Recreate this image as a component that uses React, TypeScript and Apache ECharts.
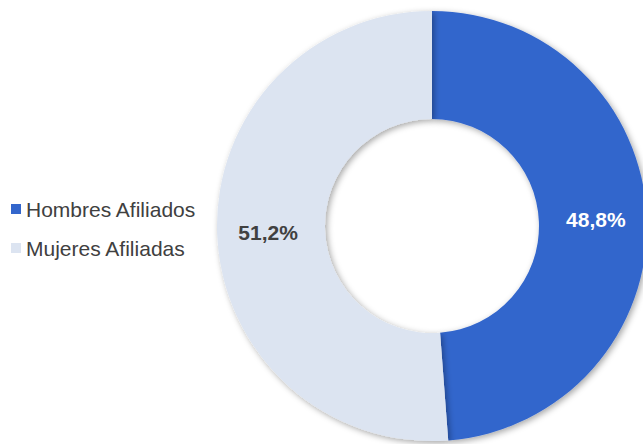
import React, { useEffect, useRef } from "react";
import * as echarts from "echarts";

const categories = ["Hombres Afiliados", "Mujeres Afiliadas"];
const values = [48.8, 51.2];
const colors = ["#3366CC", "#DCE4F1"];
const labelColors = ["#FFFFFF", "#404040"];

export default function App() {
  const ref = useRef<HTMLDivElement>(null);
  useEffect(() => {
    if (!ref.current) return;
    const chart = echarts.init(ref.current, null, { renderer: "svg" });
    chart.setOption({
      animation: false,
      legend: {
        orient: "vertical",
        left: 6,
        top: 193,
        itemWidth: 10,
        itemHeight: 10,
        itemGap: 17,
        icon: "rect",
        textStyle: {
          fontFamily: "Liberation Sans, Arial, sans-serif",
          fontSize: 21,
          lineHeight: 22,
          color: "#404040",
        },
        data: categories,
      },
      series: [
        {
          type: "pie",
          center: [432, 226],
          radius: [107, 215],
          startAngle: 90,
          clockwise: true,
          avoidLabelOverlap: false,
          itemStyle: {
            shadowBlur: 6,
            shadowColor: "rgba(0,0,0,0.35)",
            shadowOffsetX: 2,
            shadowOffsetY: 2,
          },
          label: {
            show: true,
            position: "inside",
            fontFamily: "Liberation Sans, Arial, sans-serif",
            fontWeight: "bold",
            fontSize: 21,
            formatter: (p: any) => p.value.toFixed(1).replace(".", ",") + "%",
          },
          labelLine: { show: false },
          emphasis: { disabled: true },
          data: categories.map((name, i) => ({
            name,
            value: values[i],
            itemStyle: { color: colors[i] },
            label: { color: labelColors[i] },
          })),
        },
      ],
    });
    return () => chart.dispose();
  }, []);
  return (
    <div
      ref={ref}
      style={{ position: "fixed", left: 0, top: 0, width: 643, height: 444, background: "#FFFFFF" }}
    />
  );
}
